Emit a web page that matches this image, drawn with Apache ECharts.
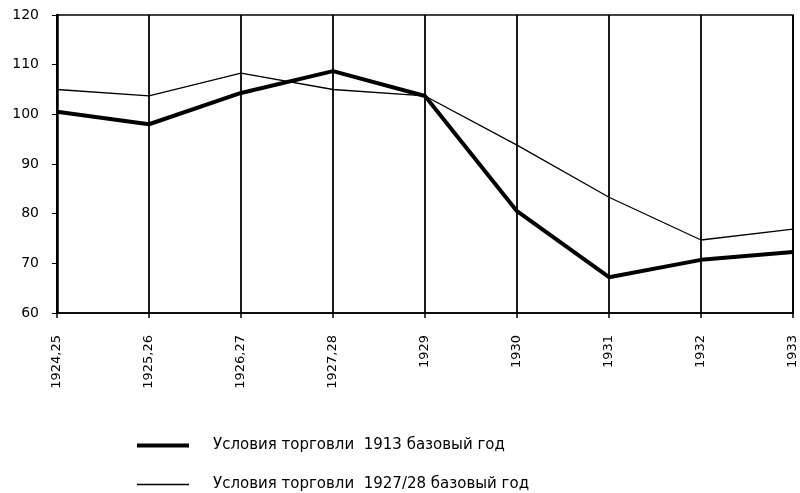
<!DOCTYPE html>
<html>
<head>
<meta charset="utf-8">
<script src="https://cdn.jsdelivr.net/npm/echarts@6/dist/echarts.min.js"></script>
<style>
    html, body { margin: 0; padding: 0; background: #fff; }
    #chart { width: 800px; height: 493px; }
</style>
</head>
<body>
<div id="chart"></div>
<script>
(function () {
    // годы (ось X)
    var years = ['1924,25', '1925,26', '1926,27', '1927,28', '1929', '1930', '1931', '1932', '1933'];
    // условия торговли, 1913 базовый год (толстая линия)
    var base1913 = [100.5, 98, 104.3, 108.7, 103.7, 80.5, 67.2, 70.7, 72.3];
    // условия торговли, 1927/28 базовый год (тонкая линия)
    var base1927 = [105, 103.7, 108.3, 105, 103.7, 93.8, 83.3, 74.7, 76.9];
    var yTicks = { min: 60, max: 120, interval: 10 };

    var names = ['Условия торговли  1913 базовый год', 'Условия торговли  1927/28 базовый год'];
    var font = 'DejaVu Sans';

    var myChart = echarts.init(document.getElementById('chart'), null, { renderer: 'canvas' });
    myChart.setOption({
        backgroundColor: '#fff',
        animation: false,
        grid: {
            left: 57,
            right: 7,
            top: 15,
            bottom: 180,
            show: true,
            borderColor: '#000',
            borderWidth: 1.5
        },
        legend: {
            orient: 'vertical',
            left: 137,
            top: 438,
            height: 120,
            padding: 0,
            itemWidth: 52,
            itemHeight: 14,
            itemGap: 24,
            data: [
                { name: names[0], icon: 'path://M0,5 L52,5 L52,9 L0,9 Z' },
                { name: names[1], icon: 'path://M2,6.2 L50,6.2 L50,7.8 L2,7.8 Z' }
            ],
            textStyle: {
                color: '#000',
                fontFamily: font,
                fontSize: 15,
                padding: [0, 0, 0, 19]
            }
        },
        xAxis: {
            type: 'category',
            data: years,
            boundaryGap: false,
            axisLine: { lineStyle: { color: '#000', width: 1.5 } },
            axisTick: { show: true, length: 5, lineStyle: { color: '#000', width: 1.5 } },
            axisLabel: {
                rotate: 90,
                margin: 22,
                color: '#000',
                fontFamily: font,
                fontSize: 13
            },
            splitLine: { show: true, lineStyle: { color: '#000', width: 1.8 } }
        },
        yAxis: {
            type: 'value',
            min: yTicks.min,
            max: yTicks.max,
            interval: yTicks.interval,
            axisLine: { show: true, lineStyle: { color: '#000', width: 2.5 } },
            axisTick: { show: true, length: 5, lineStyle: { color: '#000', width: 1 } },
            axisLabel: {
                margin: 18,
                color: '#000',
                fontFamily: font,
                fontSize: 14
            },
            splitLine: { show: false }
        },
        series: [
            {
                name: names[0],
                type: 'line',
                data: base1913,
                symbol: 'none',
                z: 4,
                lineStyle: { color: '#000', width: 4 },
                itemStyle: { color: '#000' }
            },
            {
                name: names[1],
                type: 'line',
                data: base1927,
                symbol: 'none',
                z: 3,
                lineStyle: { color: '#000', width: 1.3 },
                itemStyle: { color: '#000' }
            }
        ]
    });
})();
</script>
</body>
</html>
